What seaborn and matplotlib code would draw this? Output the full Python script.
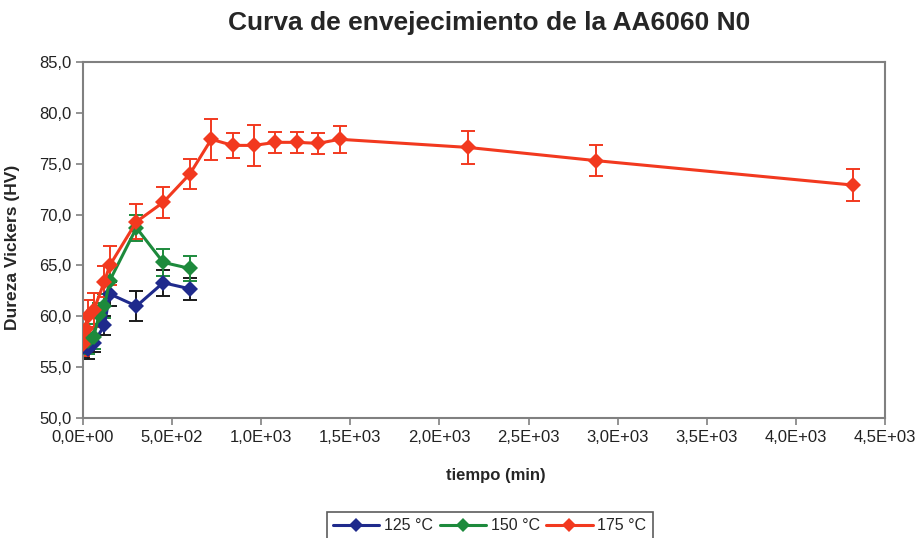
import numpy as np
import pandas as pd
import matplotlib
matplotlib.use("Agg")
import matplotlib.pyplot as plt
from matplotlib.ticker import FuncFormatter, MultipleLocator
from matplotlib.lines import Line2D
import seaborn as sns

# ---- data ----
t_125 = [0, 30, 60, 120, 150, 300, 450, 600]
hv_125 = [57.0, 56.8, 57.4, 59.1, 62.2, 61.0, 63.3, 62.7]
err_125 = [1.0, 1.0, 0.9, 0.9, 1.2, 1.5, 1.3, 1.1]

t_150 = [0, 30, 60, 90, 120, 150, 300, 450, 600]
hv_150 = [57.5, 57.6, 58.0, 60.1, 61.0, 63.5, 68.7, 65.3, 64.7]
err_150 = [1.2, 1.3, 1.2, 1.2, 1.2, 1.3, 1.3, 1.3, 1.2]

t_175 = [0, 15, 30, 60, 120, 150, 300, 450, 600, 720, 840, 960, 1080,
         1200, 1320, 1440, 2160, 2880, 4320]
hv_175 = [57.3, 58.8, 60.0, 60.6, 63.4, 65.0, 69.3, 71.2, 74.0, 77.4, 76.8,
          76.8, 77.1, 77.1, 77.0, 77.4, 76.6, 75.3, 72.9]
err_175 = [1.2, 1.5, 1.6, 1.7, 1.5, 1.9, 1.7, 1.5, 1.5, 2.0, 1.2, 2.0, 1.05,
           1.0, 1.0, 1.35, 1.6, 1.55, 1.6]

series_labels = ["125 °C", "150 °C", "175 °C"]
title = "Curva de envejecimiento de la AA6060 N0"
xlabel = "tiempo (min)"
ylabel = "Dureza Vickers (HV)"

colors = {"125 °C": "#1f2a8c", "150 °C": "#1d8a3c", "175 °C": "#f2391f"}
err_colors = {"125 °C": "#1a1a1a", "150 °C": "#1d8a3c", "175 °C": "#f2391f"}

df = pd.concat([
    pd.DataFrame({"t": t_125, "hv": hv_125, "err": err_125, "serie": series_labels[0]}),
    pd.DataFrame({"t": t_150, "hv": hv_150, "err": err_150, "serie": series_labels[1]}),
    pd.DataFrame({"t": t_175, "hv": hv_175, "err": err_175, "serie": series_labels[2]}),
], ignore_index=True)

sns.set_style("white")
plt.rcParams["font.family"] = ["Liberation Sans", "DejaVu Sans"]

fig = plt.figure(figsize=(9.19, 5.38), dpi=100)
ax = fig.add_axes([0.0903, 0.223, 0.8727, 0.6618])

for lab in series_labels:
    d = df[df["serie"] == lab]
    ax.errorbar(d["t"], d["hv"], yerr=d["err"], fmt="none",
                ecolor=err_colors[lab], elinewidth=1.4, capsize=5,
                capthick=1.4, zorder=2)

sns.lineplot(data=df, x="t", y="hv", hue="serie", palette=colors,
             marker="D", markersize=8, markeredgewidth=0, linewidth=2.2,
             sort=False, estimator=None, legend=False, ax=ax, zorder=3)

ax.set_xlim(0, 4500)
ax.set_ylim(50, 85)
ax.xaxis.set_major_locator(MultipleLocator(500))
ax.yaxis.set_major_locator(MultipleLocator(5))


def xfmt(v, pos):
    s = "%.1E" % v
    return s.replace(".", ",")


def yfmt(v, pos):
    return ("%.1f" % v).replace(".", ",")


ax.xaxis.set_major_formatter(FuncFormatter(xfmt))
ax.yaxis.set_major_formatter(FuncFormatter(yfmt))

for sp in ax.spines.values():
    sp.set_visible(True)
    sp.set_color("#808080")
    sp.set_linewidth(1.5)

ax.tick_params(axis="both", which="major", direction="out", length=5,
               width=1.2, color="#808080", labelsize=12, labelcolor="#222222",
               left=True, bottom=True)

ax.set_xlabel(xlabel, fontsize=12, fontweight="bold")
ax.xaxis.set_label_coords(0.515, -0.14)
ax.set_ylabel(ylabel, fontsize=12.5, fontweight="bold")
ax.yaxis.set_label_coords(-0.078, 0.48)
fig.suptitle(title, x=0.532, y=0.98, fontsize=19, fontweight="bold")

handles = [Line2D([0], [0], color=colors[l], marker="D", markersize=7,
                  markeredgewidth=0, linewidth=2.2) for l in series_labels]
leg = fig.legend(handles, series_labels, loc="lower center",
                 bbox_to_anchor=(0.533, -0.018), ncol=3, frameon=True,
                 fancybox=False, fontsize=11.5, handlelength=2.9,
                 columnspacing=0.4, handletextpad=0.3, borderpad=0.4)
leg.get_frame().set_edgecolor("#333333")
leg.get_frame().set_linewidth(1.2)

fig.savefig("out.png", dpi=100)
